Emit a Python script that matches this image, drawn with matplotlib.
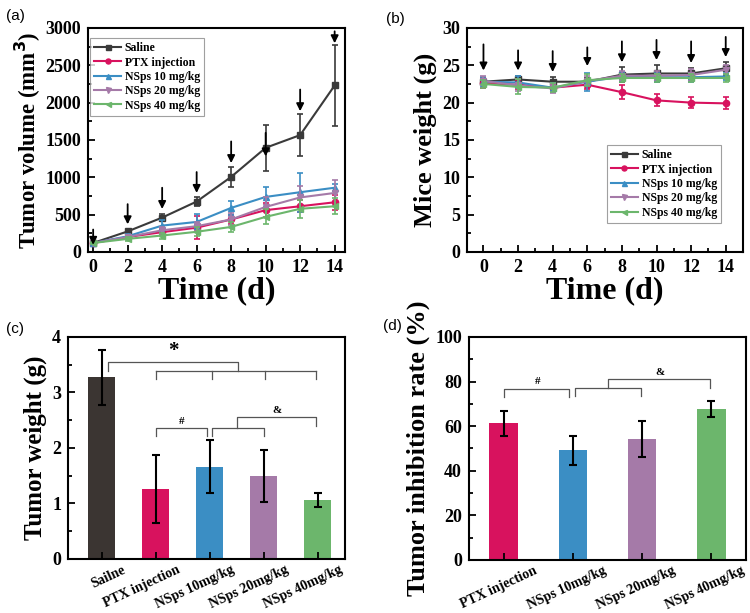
import matplotlib.pyplot as plt
import matplotlib.transforms as mtrans
import numpy as np

plt.rcParams['font.family'] = ['Liberation Serif', 'DejaVu Serif']
plt.rcParams['font.weight'] = 'bold'
plt.rcParams['axes.linewidth'] = 1.5

# ---- data ----
days = [0, 2, 4, 6, 8, 10, 12, 14]
groups = ['Saline', 'PTX injection', 'NSps 10 mg/kg', 'NSps 20 mg/kg', 'NSps 40 mg/kg']

vol_saline = [120, 275, 460, 675, 1005, 1395, 1565, 2230]
vol_ptx = [120, 200, 265, 325, 435, 560, 612, 665]
vol_ns10 = [120, 210, 353, 402, 590, 737, 800, 860]
vol_ns20 = [120, 200, 290, 345, 435, 603, 730, 790]
vol_ns40 = [120, 175, 220, 270, 335, 470, 578, 612]
vol_saline_err = [20, 20, 50, 65, 130, 310, 280, 545]
vol_ptx_err = [15, 30, 40, 155, 60, 90, 80, 100]
vol_ns10_err = [15, 30, 70, 100, 90, 130, 260, 45]
vol_ns20_err = [15, 30, 50, 60, 80, 130, 150, 180]
vol_ns40_err = [15, 30, 40, 60, 70, 100, 120, 110]

wt_saline = [22.8, 23.1, 22.8, 22.8, 23.75, 23.9, 23.9, 24.6]
wt_ptx = [22.6, 22.4, 22.0, 22.4, 21.4, 20.3, 20.0, 19.9]
wt_ns10 = [22.8, 22.7, 22.0, 22.8, 23.5, 23.4, 23.4, 23.5]
wt_ns20 = [22.9, 22.3, 21.9, 22.9, 23.6, 23.6, 23.7, 24.4]
wt_ns40 = [22.5, 22.1, 22.0, 23.0, 23.3, 23.3, 23.3, 23.3]
wt_saline_err = [0.5, 0.4, 0.6, 0.5, 1.0, 1.2, 0.8, 0.9]
wt_ptx_err = [0.6, 0.6, 0.5, 0.6, 0.9, 0.8, 0.7, 0.8]
wt_ns10_err = [0.6, 0.8, 0.6, 1.2, 0.6, 0.6, 0.6, 0.5]
wt_ns20_err = [0.6, 0.8, 0.6, 0.6, 0.6, 0.6, 0.8, 0.6]
wt_ns40_err = [0.5, 1.0, 0.6, 0.8, 0.5, 0.5, 0.5, 0.5]

# arrow (shaft top, tip) per day
arrow_a = [(300, 95), (640, 370), (860, 575), (1070, 790), (1480, 1190), (1595, 1280), (2175, 1885), (2955, 2795)]
arrow_b = [(27.8, 24.3), (27.0, 24.3), (26.9, 24.1), (27.4, 24.9), (28.2, 25.4), (28.4, 25.7), (28.2, 25.3), (28.8, 26.1)]

bar_c_labels = ['Sailne', 'PTX injection', 'NSps 10mg/kg', 'NSps 20mg/kg', 'NSps 40mg/kg']
tumor_weight = [3.27, 1.26, 1.66, 1.50, 1.06]
tumor_weight_err = [0.49, 0.61, 0.48, 0.47, 0.12]

bar_d_labels = ['PTX injection', 'NSps 10mg/kg', 'NSps 20mg/kg', 'NSps 40mg/kg']
inhibition = [61.3, 49.1, 54.1, 67.6]
inhibition_err = [5.7, 6.4, 8.0, 3.6]

line_colors = ['#3a3a3a', '#d8125e', '#3b8ec4', '#a57aa8', '#6cb66c']
bar_colors = ['#3b3532', '#d8125e', '#3b8ec4', '#a57aa8', '#6cb66c']
markers = ['s', 'o', '^', 'v', '<']

fig = plt.figure(figsize=(7.5, 6.13), dpi=100)
ax_a = fig.add_axes([0.1173, 0.589, 0.3427, 0.3654])
ax_b = fig.add_axes([0.6227, 0.589, 0.368, 0.3654])
ax_c = fig.add_axes([0.0907, 0.0881, 0.3693, 0.3622])
ax_d = fig.add_axes([0.6253, 0.0865, 0.3693, 0.3638])


def style_ticks(ax):
    ax.tick_params(which='both', direction='in', top=False, right=False, width=1.3)
    ax.tick_params(which='major', length=5, labelsize=13, pad=5)
    ax.tick_params(which='minor', length=3)
    for lab in ax.get_xticklabels() + ax.get_yticklabels():
        lab.set_fontweight('bold')


def line_panel(ax, series, errs, arrows):
    for vals, err, col, mk, name in zip(series, errs, line_colors, markers, groups):
        ax.plot(days, vals, color=col, marker=mk, markersize=4.5, linewidth=1.5, label=name)
        ax.errorbar(days, vals, yerr=err, fmt='none', ecolor=col,
                    capsize=2.5, elinewidth=1.2, capthick=1.2)
    for d, (top, tip) in zip(days, arrows):
        ax.annotate('', xy=(d, tip), xytext=(d, top),
                    arrowprops=dict(arrowstyle='-|>', color='black', lw=1.3,
                                    mutation_scale=11, shrinkA=0, shrinkB=0))
    ax.set_xticks(days)
    ax.set_xticks(range(1, 15, 2), minor=True)
    ax.set_xlabel('Time (d)', fontsize=23, fontweight='bold', labelpad=0)


def add_legend(ax, loc, anchor):
    leg = ax.legend(loc=loc, fontsize=8.5, frameon=True, fancybox=False,
                    edgecolor='#888888', handlelength=2.3, borderpad=0.35,
                    labelspacing=0.2, handletextpad=0.3, markerscale=0.8,
                    borderaxespad=0, bbox_to_anchor=anchor)
    leg.get_frame().set_linewidth(0.8)
    for t in leg.get_texts():
        t.set_fontweight('bold')


# (a)
line_panel(ax_a, [vol_saline, vol_ptx, vol_ns10, vol_ns20, vol_ns40],
           [vol_saline_err, vol_ptx_err, vol_ns10_err, vol_ns20_err, vol_ns40_err], arrow_a)
ax_a.set_xlim(-0.3, 14.6)
ax_a.set_ylim(0, 3000)
ax_a.set_yticks(np.arange(0, 3001, 500))
ax_a.set_yticks(np.arange(250, 3000, 500), minor=True)
ax_a.set_ylabel('Tumor volume (mm$^\\mathbf{3}$)', fontsize=16.5, fontweight='bold', labelpad=2)
add_legend(ax_a, 'upper left', (0.008, 0.955))
style_ticks(ax_a)

# (b)
line_panel(ax_b, [wt_saline, wt_ptx, wt_ns10, wt_ns20, wt_ns40],
           [wt_saline_err, wt_ptx_err, wt_ns10_err, wt_ns20_err, wt_ns40_err], arrow_b)
ax_b.set_xlim(-0.95, 15.0)
ax_b.set_ylim(0, 30)
ax_b.set_yticks(np.arange(0, 31, 5))
ax_b.set_yticks(np.arange(2.5, 30, 5), minor=True)
ax_b.set_ylabel('Mice weight (g)', fontsize=19, fontweight='bold', labelpad=4)
add_legend(ax_b, 'lower right', (0.92, 0.13))
style_ticks(ax_b)


def bracket(ax, x1, x2, y, drop, lw=0.9, color='#555555'):
    ax.plot([x1, x1, x2, x2], [y - drop, y, y, y - drop], color=color, lw=lw)


def bar_xlabels(ax, labels, shift_px):
    ax.set_xticklabels(labels, rotation=25, ha='right', rotation_mode='anchor', fontsize=10)
    ax.tick_params(axis='x', labelsize=10, pad=3)
    off = mtrans.ScaledTranslation(shift_px / 100, 0, fig.dpi_scale_trans)
    for lab in ax.get_xticklabels():
        lab.set_fontweight('bold')
        lab.set_transform(lab.get_transform() + off)


# (c)
xc = np.arange(len(tumor_weight))
ax_c.bar(xc, tumor_weight, width=0.5, color=bar_colors)
ax_c.errorbar(xc, tumor_weight, yerr=tumor_weight_err, fmt='none', ecolor='black',
              elinewidth=1.5, capsize=3, capthick=1.5)
ax_c.set_xlim(-0.62, 4.5)
ax_c.set_ylim(0, 4)
ax_c.set_yticks(np.arange(0, 5, 1))
ax_c.set_yticks(np.arange(0.5, 4, 1), minor=True)
ax_c.set_xticks(xc)
ax_c.set_ylabel('Tumor weight (g)', fontsize=18, fontweight='bold', labelpad=4)
style_ticks(ax_c)
bar_xlabels(ax_c, bar_c_labels, 21)
# significance marks
ax_c.plot([0.12, 0.12, 2.52, 2.52], [3.39, 3.54, 3.54, 3.39], color='#555555', lw=0.9)
ax_c.plot([1.0, 3.96], [3.39, 3.39], color='#555555', lw=0.9)
for xx in [1.0, 2.04, 3.03, 3.96]:
    ax_c.plot([xx, xx], [3.39, 3.25], color='#555555', lw=0.9)
ax_c.text(1.32, 3.56, '*', ha='center', va='bottom', fontsize=15, fontweight='bold')
bracket(ax_c, 1.0, 1.95, 2.36, 0.14)
ax_c.text(1.48, 2.39, '#', ha='center', va='bottom', fontsize=8)
bracket(ax_c, 2.05, 3.0, 2.36, 0.14)
ax_c.plot([2.51, 2.51, 3.96, 3.96], [2.36, 2.55, 2.55, 2.40], color='#555555', lw=0.9)
ax_c.text(3.25, 2.59, '&', ha='center', va='bottom', fontsize=8, fontweight='bold')

# (d)
xd = np.arange(len(inhibition))
ax_d.bar(xd, inhibition, width=0.41, color=bar_colors[1:])
ax_d.errorbar(xd, inhibition, yerr=inhibition_err, fmt='none', ecolor='black',
              elinewidth=1.5, capsize=3, capthick=1.5)
ax_d.set_xlim(-0.5, 3.5)
ax_d.set_ylim(0, 100)
ax_d.set_yticks(np.arange(0, 101, 20))
ax_d.set_yticks(np.arange(10, 100, 20), minor=True)
ax_d.set_xticks(xd)
ax_d.set_ylabel('Tumor inhibition rate (%)', fontsize=19, fontweight='bold', labelpad=4)
style_ticks(ax_d)
bar_xlabels(ax_d, bar_d_labels, 30)
bracket(ax_d, 0.0, 0.95, 76.6, 3.5)
ax_d.text(0.49, 78, '#', ha='center', va='bottom', fontsize=8)
bracket(ax_d, 1.03, 1.99, 77.3, 3.7)
ax_d.plot([1.51, 1.51, 2.98, 2.98], [77.3, 81.0, 81.0, 77.3], color='#555555', lw=0.9)
ax_d.text(2.26, 82.2, '&', ha='center', va='bottom', fontsize=8, fontweight='bold')

# panel labels
for txt, x, y in [('(a)', 0.008, 0.985), ('(b)', 0.515, 0.98), ('(c)', 0.008, 0.475), ('(d)', 0.51, 0.48)]:
    fig.text(x, y, txt, fontsize=11, fontweight='normal', family=['Liberation Sans', 'DejaVu Sans'],
             va='top', ha='left')

fig.savefig('out.png', dpi=100)
